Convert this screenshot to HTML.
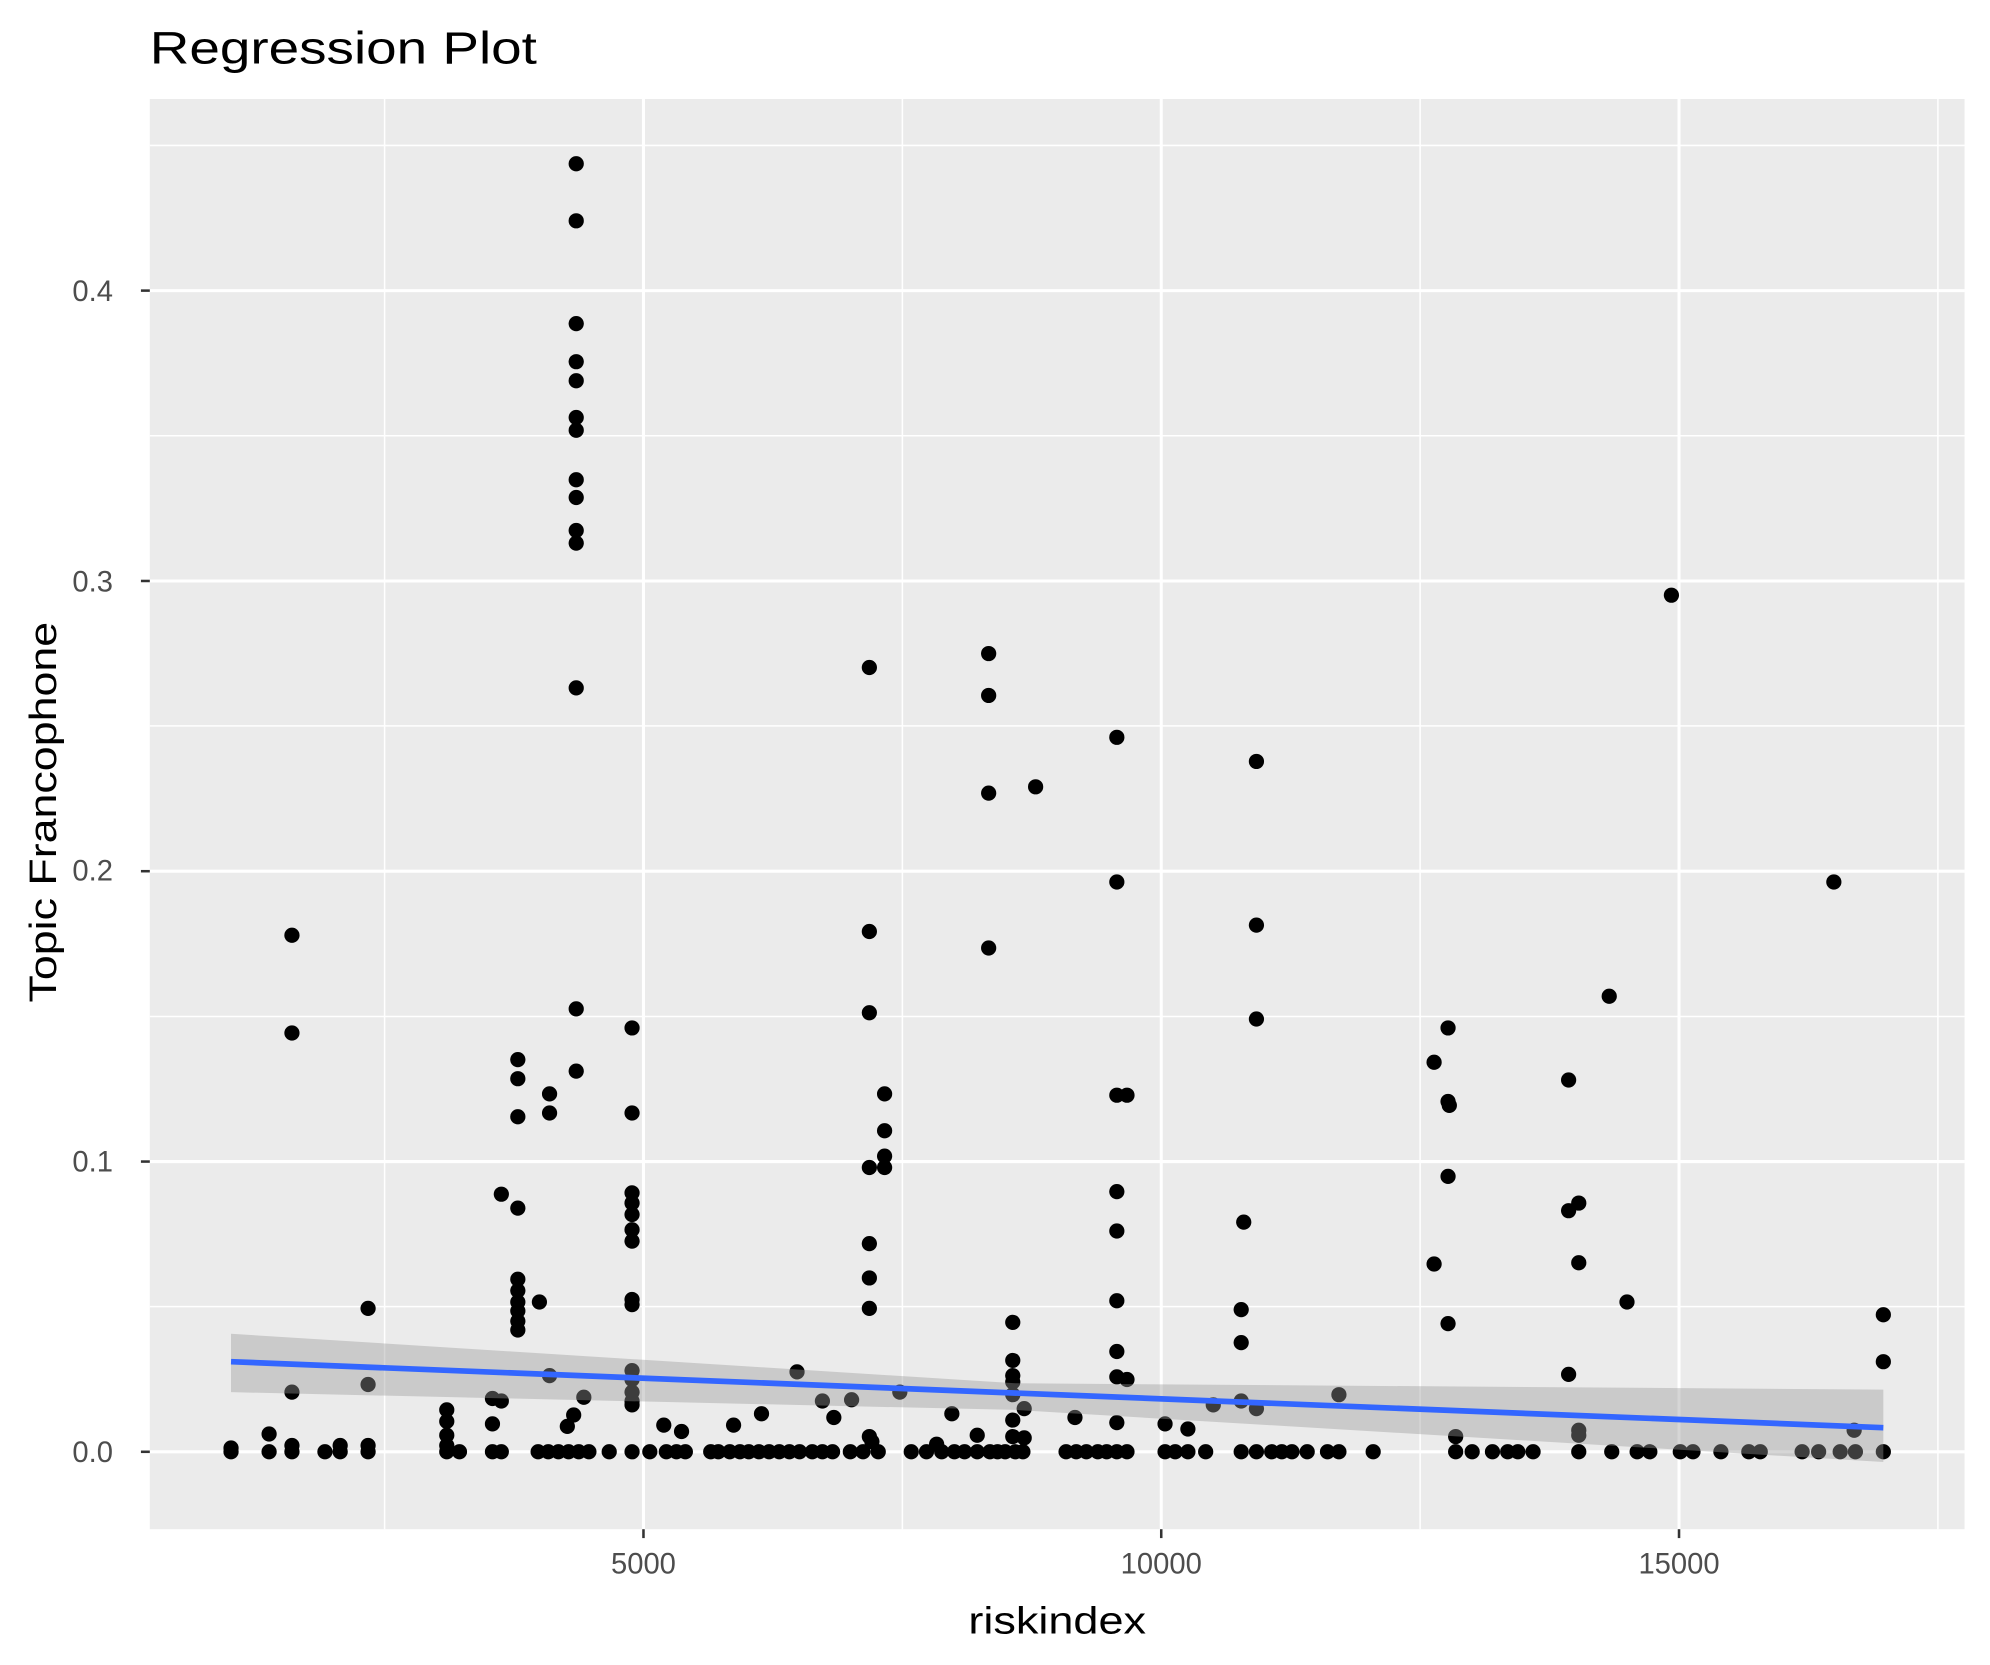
<!DOCTYPE html>
<html><head><meta charset="utf-8"><style>html,body{margin:0;padding:0;background:#fff}svg{display:block}</style></head>
<body>
<svg width="1990" height="1665" viewBox="0 0 1568 1312" xmlns="http://www.w3.org/2000/svg" font-family="Liberation Sans, sans-serif">
<rect width="1568" height="1312" fill="#fff"/>
<text x="118" y="50" font-size="36" fill="#000" textLength="305" lengthAdjust="spacingAndGlyphs">Regression Plot</text>
<rect x="118" y="78" width="1430" height="1127" fill="#ebebeb"/>
<g stroke="#fff" stroke-width="1.2">
<line x1="303" y1="78" x2="303" y2="1205"/><line x1="711" y1="78" x2="711" y2="1205"/><line x1="1119" y1="78" x2="1119" y2="1205"/><line x1="1527" y1="78" x2="1527" y2="1205"/>
<line x1="118" y1="1029.6" x2="1548" y2="1029.6"/><line x1="118" y1="801" x2="1548" y2="801"/><line x1="118" y1="572" x2="1548" y2="572"/><line x1="118" y1="343.4" x2="1548" y2="343.4"/><line x1="118" y1="114.6" x2="1548" y2="114.6"/>
</g>
<g stroke="#fff" stroke-width="2.4">
<line x1="507" y1="78" x2="507" y2="1205"/><line x1="915" y1="78" x2="915" y2="1205"/><line x1="1323" y1="78" x2="1323" y2="1205"/>
<line x1="118" y1="1144" x2="1548" y2="1144"/><line x1="118" y1="915.3" x2="1548" y2="915.3"/><line x1="118" y1="686.5" x2="1548" y2="686.5"/><line x1="118" y1="457.8" x2="1548" y2="457.8"/><line x1="118" y1="229" x2="1548" y2="229"/>
</g>
<g fill="#000">
<circle cx="182" cy="1141" r="6"/><circle cx="212" cy="1130" r="6"/>
<circle cx="230" cy="737" r="6"/><circle cx="230" cy="814" r="6"/><circle cx="230" cy="1097" r="6"/><circle cx="230" cy="1139" r="6"/>
<circle cx="268" cy="1139" r="6"/><circle cx="290" cy="1031" r="6"/><circle cx="290" cy="1091" r="6"/><circle cx="290" cy="1139" r="6"/>
<circle cx="352" cy="1111" r="6"/><circle cx="352" cy="1120" r="6"/><circle cx="352" cy="1131" r="6"/><circle cx="352" cy="1139" r="6"/>
<circle cx="388" cy="1102" r="6"/><circle cx="388" cy="1122" r="6"/><circle cx="395" cy="941" r="6"/><circle cx="395" cy="1104" r="6"/>
<circle cx="408" cy="835" r="6"/><circle cx="408" cy="850" r="6"/><circle cx="408" cy="880" r="6"/><circle cx="408" cy="952" r="6"/><circle cx="408" cy="1008" r="6"/><circle cx="408" cy="1017" r="6"/><circle cx="408" cy="1026" r="6"/><circle cx="408" cy="1033" r="6"/><circle cx="408" cy="1041" r="6"/><circle cx="408" cy="1048" r="6"/>
<circle cx="425" cy="1026" r="6"/><circle cx="433" cy="862" r="6"/><circle cx="433" cy="877" r="6"/><circle cx="433" cy="1084" r="6"/>
<circle cx="454" cy="129" r="6"/><circle cx="454" cy="174" r="6"/><circle cx="454" cy="255" r="6"/><circle cx="454" cy="285" r="6"/><circle cx="454" cy="300" r="6"/><circle cx="454" cy="329" r="6"/><circle cx="454" cy="339" r="6"/><circle cx="454" cy="378" r="6"/><circle cx="454" cy="392" r="6"/><circle cx="454" cy="418" r="6"/><circle cx="454" cy="428" r="6"/><circle cx="454" cy="542" r="6"/><circle cx="454" cy="795" r="6"/><circle cx="454" cy="844" r="6"/><circle cx="452" cy="1115" r="6"/><circle cx="447" cy="1124" r="6"/><circle cx="460" cy="1101" r="6"/>
<circle cx="498" cy="810" r="6"/><circle cx="498" cy="877" r="6"/><circle cx="498" cy="940" r="6"/><circle cx="498" cy="948" r="6"/><circle cx="498" cy="957" r="6"/><circle cx="498" cy="969" r="6"/><circle cx="498" cy="978" r="6"/><circle cx="498" cy="1024" r="6"/><circle cx="498" cy="1028" r="6"/><circle cx="498" cy="1080" r="6"/><circle cx="498" cy="1087" r="6"/><circle cx="498" cy="1097" r="6"/><circle cx="498" cy="1104" r="6"/><circle cx="498" cy="1107" r="6"/>
<circle cx="523" cy="1123" r="6"/><circle cx="537" cy="1128" r="6"/><circle cx="578" cy="1123" r="6"/><circle cx="600" cy="1114" r="6"/><circle cx="628" cy="1081" r="6"/><circle cx="648" cy="1104" r="6"/><circle cx="657" cy="1117" r="6"/><circle cx="671" cy="1103" r="6"/>
<circle cx="685" cy="526" r="6"/><circle cx="685" cy="734" r="6"/><circle cx="685" cy="798" r="6"/><circle cx="685" cy="920" r="6"/><circle cx="685" cy="980" r="6"/><circle cx="685" cy="1007" r="6"/><circle cx="685" cy="1031" r="6"/><circle cx="685" cy="1132" r="6"/><circle cx="687" cy="1136" r="6"/>
<circle cx="697" cy="862" r="6"/><circle cx="697" cy="891" r="6"/><circle cx="697" cy="911" r="6"/><circle cx="697" cy="920" r="6"/><circle cx="709" cy="1097" r="6"/>
<circle cx="738" cy="1138" r="6"/><circle cx="750" cy="1114" r="6"/><circle cx="770" cy="1131" r="6"/>
<circle cx="779" cy="515" r="6"/><circle cx="779" cy="548" r="6"/><circle cx="779" cy="625" r="6"/><circle cx="779" cy="747" r="6"/>
<circle cx="798" cy="1042" r="6"/><circle cx="798" cy="1072" r="6"/><circle cx="798" cy="1084" r="6"/><circle cx="798" cy="1089" r="6"/><circle cx="798" cy="1099" r="6"/><circle cx="798" cy="1119" r="6"/><circle cx="798" cy="1132" r="6"/><circle cx="807" cy="1110" r="6"/><circle cx="807" cy="1133" r="6"/><circle cx="816" cy="620" r="6"/>
<circle cx="847" cy="1117" r="6"/>
<circle cx="880" cy="581" r="6"/><circle cx="880" cy="695" r="6"/><circle cx="880" cy="863" r="6"/><circle cx="880" cy="939" r="6"/><circle cx="880" cy="970" r="6"/><circle cx="880" cy="1025" r="6"/><circle cx="880" cy="1065" r="6"/><circle cx="880" cy="1085" r="6"/><circle cx="880" cy="1121" r="6"/><circle cx="888" cy="863" r="6"/><circle cx="888" cy="1087" r="6"/>
<circle cx="918" cy="1122" r="6"/><circle cx="936" cy="1126" r="6"/><circle cx="956" cy="1107" r="6"/>
<circle cx="978" cy="1032" r="6"/><circle cx="978" cy="1058" r="6"/><circle cx="978" cy="1104" r="6"/><circle cx="980" cy="963" r="6"/>
<circle cx="990" cy="600" r="6"/><circle cx="990" cy="729" r="6"/><circle cx="990" cy="803" r="6"/><circle cx="990" cy="1110" r="6"/>
<circle cx="1055" cy="1099" r="6"/>
<circle cx="1130" cy="837" r="6"/><circle cx="1130" cy="996" r="6"/><circle cx="1141" cy="810" r="6"/><circle cx="1141" cy="868" r="6"/><circle cx="1142" cy="871" r="6"/><circle cx="1141" cy="927" r="6"/><circle cx="1141" cy="1043" r="6"/><circle cx="1147" cy="1132" r="6"/>
<circle cx="1236" cy="851" r="6"/><circle cx="1236" cy="954" r="6"/><circle cx="1236" cy="1083" r="6"/><circle cx="1244" cy="948" r="6"/><circle cx="1244" cy="995" r="6"/><circle cx="1244" cy="1127" r="6"/><circle cx="1244" cy="1131" r="6"/><circle cx="1268" cy="785" r="6"/><circle cx="1282" cy="1026" r="6"/>
<circle cx="1317" cy="469" r="6"/><circle cx="1445" cy="695" r="6"/><circle cx="1461" cy="1127" r="6"/><circle cx="1484" cy="1036" r="6"/><circle cx="1484" cy="1073" r="6"/>
<circle cx="182" cy="1144" r="6"/><circle cx="212" cy="1144" r="6"/><circle cx="230" cy="1144" r="6"/><circle cx="256" cy="1144" r="6"/><circle cx="268" cy="1144" r="6"/><circle cx="290" cy="1144" r="6"/><circle cx="352" cy="1144" r="6"/><circle cx="362" cy="1144" r="6"/><circle cx="388" cy="1144" r="6"/><circle cx="395" cy="1144" r="6"/><circle cx="424" cy="1144" r="6"/><circle cx="432" cy="1144" r="6"/><circle cx="440" cy="1144" r="6"/><circle cx="448" cy="1144" r="6"/><circle cx="456" cy="1144" r="6"/><circle cx="464" cy="1144" r="6"/><circle cx="480" cy="1144" r="6"/><circle cx="498" cy="1144" r="6"/><circle cx="512" cy="1144" r="6"/><circle cx="525" cy="1144" r="6"/><circle cx="533" cy="1144" r="6"/><circle cx="540" cy="1144" r="6"/><circle cx="560" cy="1144" r="6"/><circle cx="566" cy="1144" r="6"/><circle cx="575" cy="1144" r="6"/><circle cx="583" cy="1144" r="6"/><circle cx="590" cy="1144" r="6"/><circle cx="598" cy="1144" r="6"/><circle cx="606" cy="1144" r="6"/><circle cx="614" cy="1144" r="6"/><circle cx="622" cy="1144" r="6"/><circle cx="630" cy="1144" r="6"/><circle cx="640" cy="1144" r="6"/><circle cx="648" cy="1144" r="6"/><circle cx="656" cy="1144" r="6"/><circle cx="670" cy="1144" r="6"/><circle cx="680" cy="1144" r="6"/><circle cx="692" cy="1144" r="6"/><circle cx="718" cy="1144" r="6"/><circle cx="730" cy="1144" r="6"/><circle cx="742" cy="1144" r="6"/><circle cx="752" cy="1144" r="6"/><circle cx="760" cy="1144" r="6"/><circle cx="770" cy="1144" r="6"/><circle cx="780" cy="1144" r="6"/><circle cx="786" cy="1144" r="6"/><circle cx="792" cy="1144" r="6"/><circle cx="800" cy="1144" r="6"/><circle cx="806" cy="1144" r="6"/><circle cx="840" cy="1144" r="6"/><circle cx="848" cy="1144" r="6"/><circle cx="856" cy="1144" r="6"/><circle cx="865" cy="1144" r="6"/><circle cx="872" cy="1144" r="6"/><circle cx="880" cy="1144" r="6"/><circle cx="888" cy="1144" r="6"/><circle cx="918" cy="1144" r="6"/><circle cx="926" cy="1144" r="6"/><circle cx="936" cy="1144" r="6"/><circle cx="950" cy="1144" r="6"/><circle cx="978" cy="1144" r="6"/><circle cx="990" cy="1144" r="6"/><circle cx="1002" cy="1144" r="6"/><circle cx="1010" cy="1144" r="6"/><circle cx="1018" cy="1144" r="6"/><circle cx="1030" cy="1144" r="6"/><circle cx="1046" cy="1144" r="6"/><circle cx="1055" cy="1144" r="6"/><circle cx="1082" cy="1144" r="6"/><circle cx="1147" cy="1144" r="6"/><circle cx="1160" cy="1144" r="6"/><circle cx="1176" cy="1144" r="6"/><circle cx="1188" cy="1144" r="6"/><circle cx="1196" cy="1144" r="6"/><circle cx="1208" cy="1144" r="6"/><circle cx="1244" cy="1144" r="6"/><circle cx="1270" cy="1144" r="6"/><circle cx="1290" cy="1144" r="6"/><circle cx="1300" cy="1144" r="6"/><circle cx="1324" cy="1144" r="6"/><circle cx="1334" cy="1144" r="6"/><circle cx="1356" cy="1144" r="6"/><circle cx="1378" cy="1144" r="6"/><circle cx="1387" cy="1144" r="6"/><circle cx="1420" cy="1144" r="6"/><circle cx="1433" cy="1144" r="6"/><circle cx="1450" cy="1144" r="6"/><circle cx="1462" cy="1144" r="6"/><circle cx="1484" cy="1144" r="6"/>
</g>
<polygon points="182,1051 800,1090 1484,1095 1484,1152 800,1111 182,1097" fill="#999" fill-opacity="0.4"/>
<line x1="182" y1="1073" x2="1484" y2="1125" stroke="#3366ff" stroke-width="4.5"/>
<g stroke="#333" stroke-width="2">
<line x1="111" y1="1144" x2="118" y2="1144"/><line x1="111" y1="915.3" x2="118" y2="915.3"/><line x1="111" y1="686.5" x2="118" y2="686.5"/><line x1="111" y1="457.8" x2="118" y2="457.8"/><line x1="111" y1="229" x2="118" y2="229"/>
<line x1="507" y1="1205" x2="507" y2="1212"/><line x1="915" y1="1205" x2="915" y2="1212"/><line x1="1323" y1="1205" x2="1323" y2="1212"/>
</g>
<g fill="#4d4d4d" font-size="23" text-anchor="end">
<text x="89" y="1152">0.0</text><text x="89" y="923">0.1</text><text x="89" y="694">0.2</text><text x="89" y="466">0.3</text><text x="89" y="237">0.4</text>
</g>
<g fill="#4d4d4d" font-size="23" text-anchor="middle">
<text x="507" y="1240">5000</text><text x="915" y="1240">10000</text><text x="1323" y="1240">15000</text>
</g>
<text x="833" y="1287" font-size="30" text-anchor="middle" fill="#000" textLength="140" lengthAdjust="spacingAndGlyphs">riskindex</text>
<text transform="translate(44,640) rotate(-90)" font-size="30" text-anchor="middle" fill="#000" textLength="300" lengthAdjust="spacingAndGlyphs">Topic Francophone</text>
</svg>
</body></html>
